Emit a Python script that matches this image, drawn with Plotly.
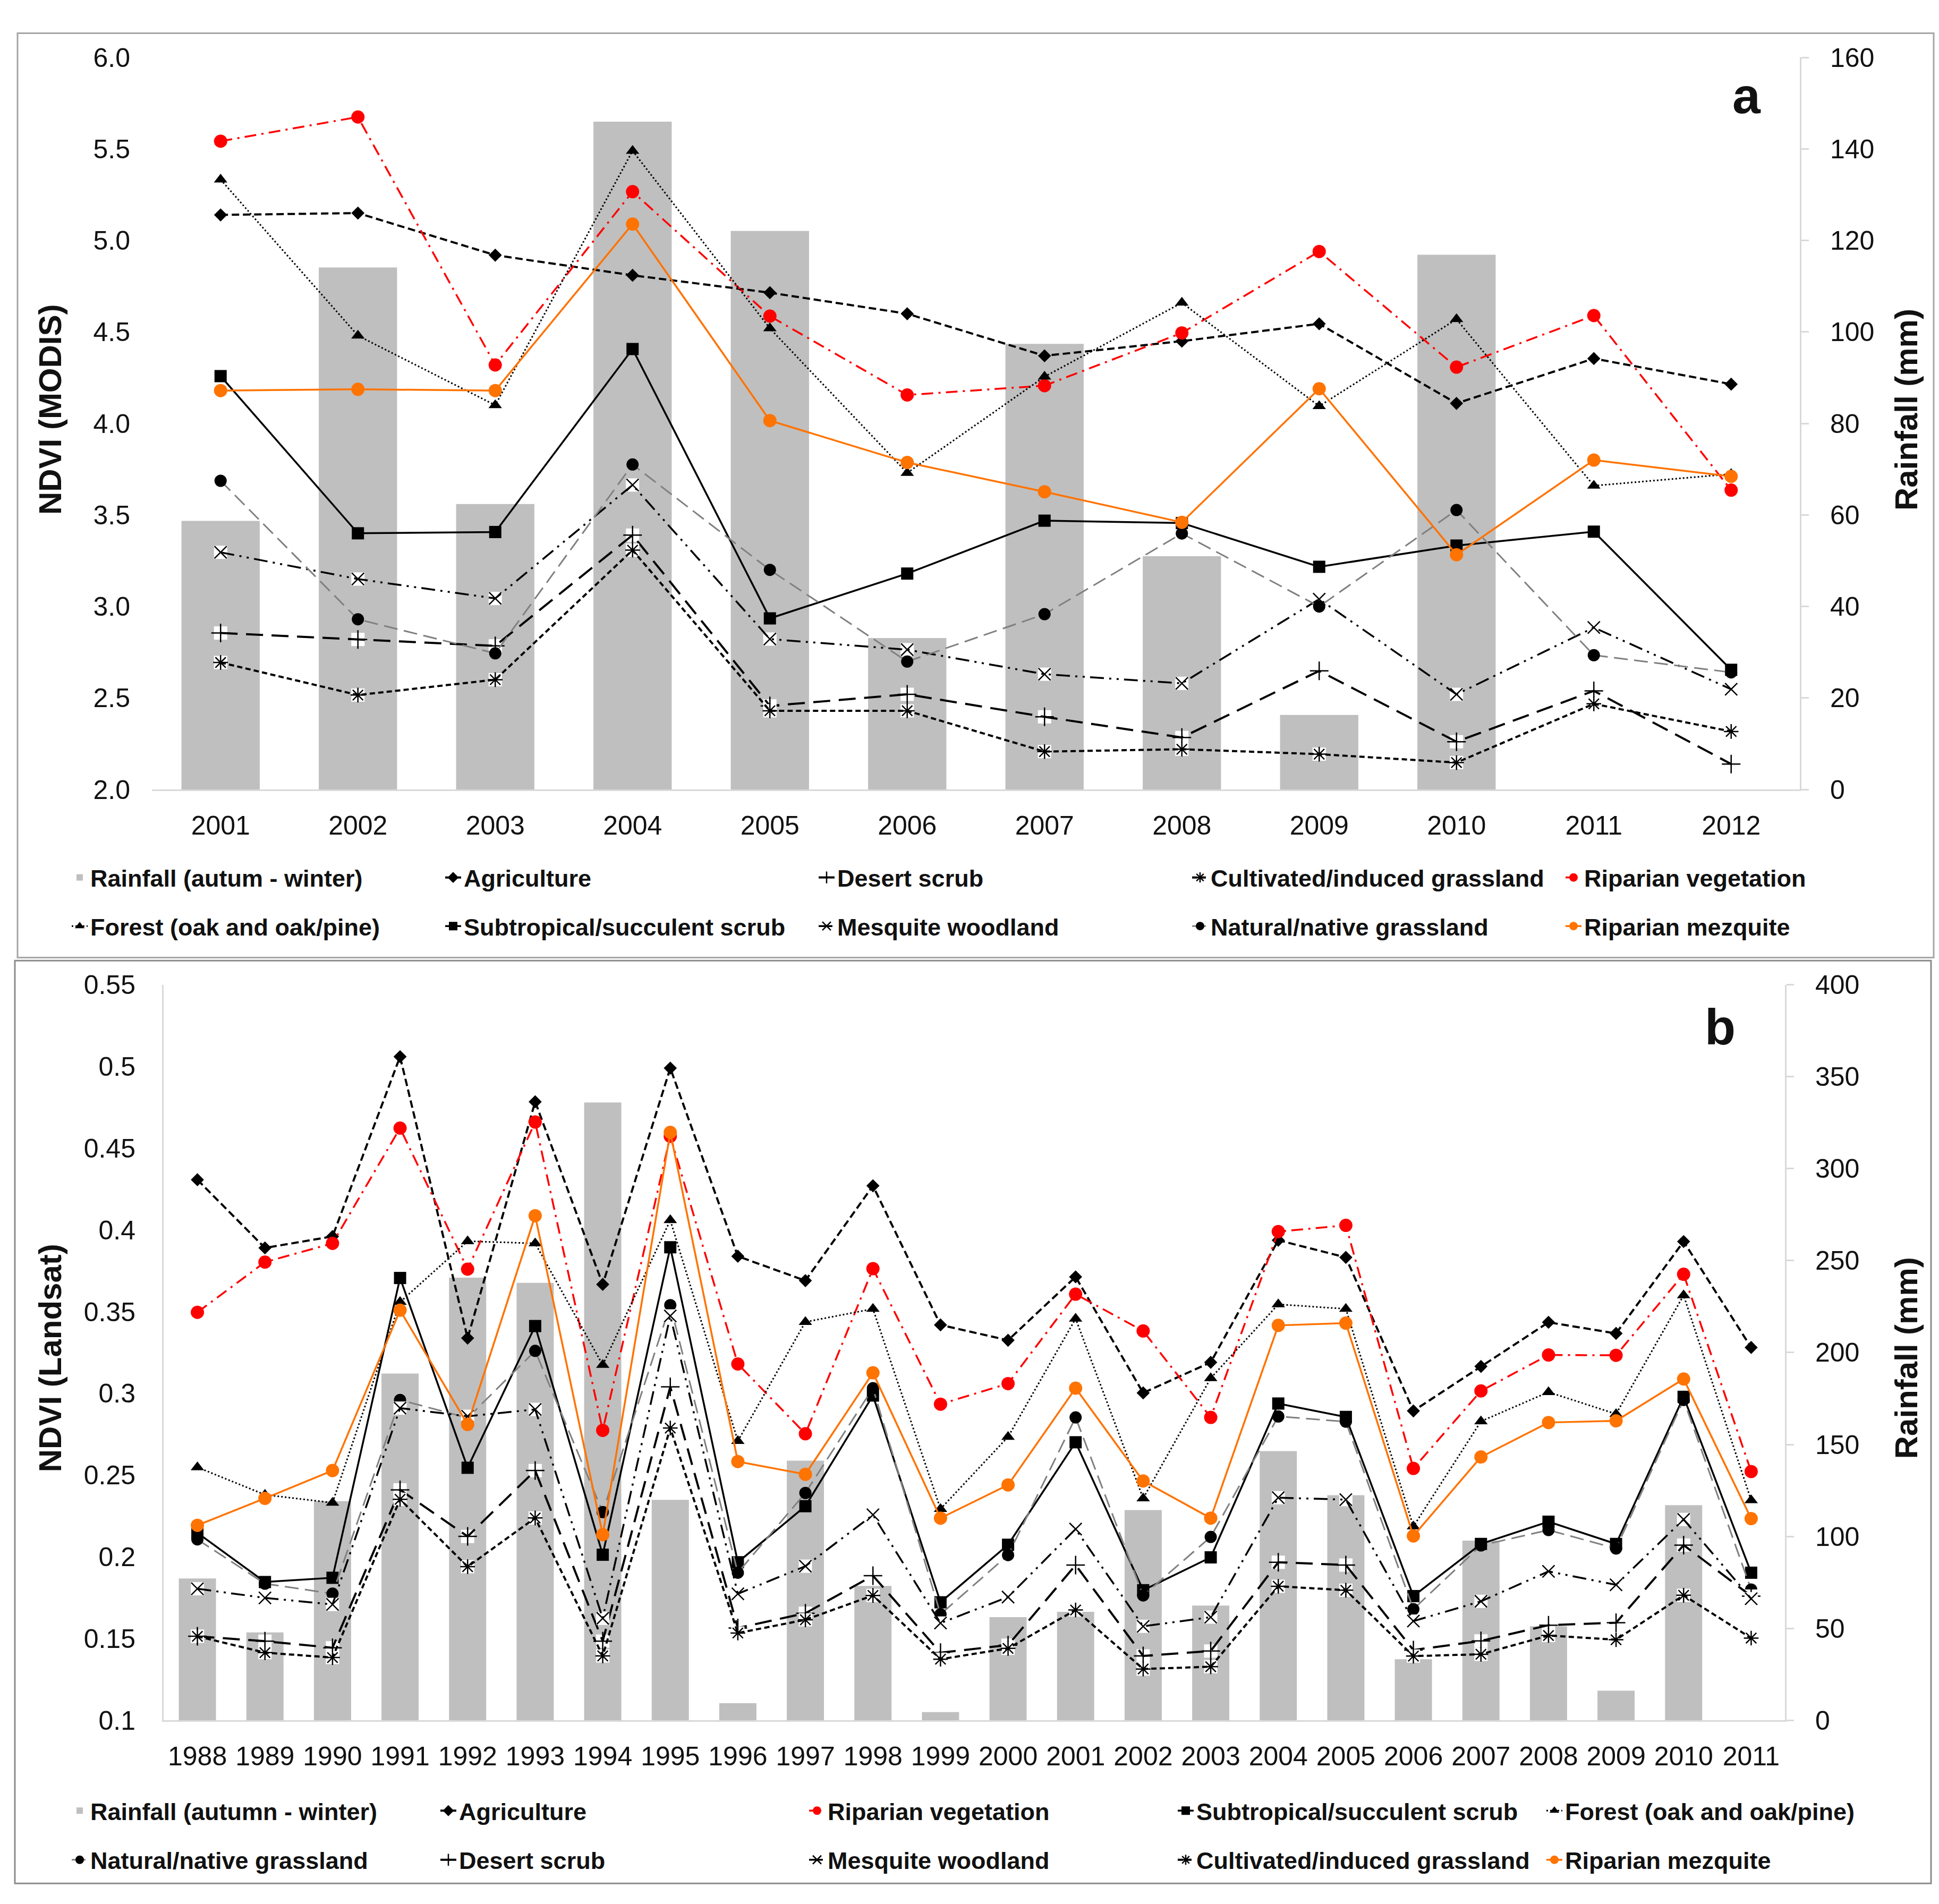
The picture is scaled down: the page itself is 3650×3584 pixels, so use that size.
import plotly.graph_objects as go

# ---------------- data: panel a (MODIS) ----------------
years_a = [2001, 2002, 2003, 2004, 2005, 2006, 2007, 2008, 2009, 2010, 2011, 2012]
year_labels_a = [str(y) for y in years_a]
rain_a = [58.7, 114.1, 62.4, 146.0, 122.1, 33.1, 97.4, 51.0, 16.3, 116.9, None, None]
agri_a = [5.14, 5.15, 4.92, 4.81, 4.715, 4.60, 4.37, 4.45, 4.545, 4.11, 4.355, 4.215]
desert_a = [2.855, 2.82, 2.785, 3.39, 2.457, 2.52, 2.397, 2.284, 2.648, 2.261, 2.539, 2.139]
cult_a = [2.694, 2.516, 2.60, 3.308, 2.43, 2.43, 2.207, 2.22, 2.193, 2.147, 2.468, 2.317]
ripveg_a = [5.543, 5.675, 4.32, 5.267, 4.587, 4.156, 4.207, 4.495, 4.94, 4.308, 4.59, 3.636]
forest_a = [5.333, 4.48, 4.10, 5.49, 4.52, 3.73, 4.256, 4.66, 4.095, 4.57, 3.66, 3.724]
subtrop_a = [4.259, 3.40, 3.407, 4.407, 2.935, 3.18, 3.469, 3.456, 3.217, 3.333, 3.409, 2.654]
mesq_a = [3.296, 3.15, 3.044, 3.664, 2.822, 2.764, 2.63, 2.58, 3.04, 2.52, 2.885, 2.548]
natural_a = [3.687, 2.93, 2.744, 3.776, 3.20, 2.699, 2.958, 3.399, 3.0, 3.527, 2.734, 2.64]
ripmez_a = [4.18, 4.187, 4.18, 5.09, 4.016, 3.787, 3.627, 3.46, 4.19, 3.283, 3.80, 3.711]
ndvi_ticks_a = [2.0, 2.5, 3.0, 3.5, 4.0, 4.5, 5.0, 5.5, 6.0]
ndvi_ticktext_a = ["2.0", "2.5", "3.0", "3.5", "4.0", "4.5", "5.0", "5.5", "6.0"]
rain_ticks_a = [0, 20, 40, 60, 80, 100, 120, 140, 160]

# ---------------- data: panel b (Landsat) ----------------
years_b = [1988, 1989, 1990, 1991, 1992, 1993, 1994, 1995, 1996, 1997, 1998, 1999,
           2000, 2001, 2002, 2003, 2004, 2005, 2006, 2007, 2008, 2009, 2010, 2011]
year_labels_b = [str(y) for y in years_b]
rain_b = [77.1, 47.8, 119.2, 188.6, 240.7, 237.9, 336.0, 119.9, 9.3, 141.2, 73.1, 4.5,
          56.1, 59.0, 114.3, 62.4, 146.4, 122.4, 33.2, 97.7, 51.1, 16.1, 117.0, None]
agri_b = [0.4307, 0.389, 0.396, 0.506, 0.3338, 0.4784, 0.3667, 0.499, 0.3839, 0.369, 0.427, 0.3419,
          0.3325, 0.3713, 0.3003, 0.319, 0.3937, 0.3832, 0.2893, 0.3165, 0.3435, 0.3367, 0.3929, 0.3281]
ripveg_b = [0.3496, 0.3803, 0.3918, 0.4623, 0.376, 0.466, 0.2774, 0.4573, 0.318, 0.2753, 0.3763, 0.2934,
            0.306, 0.3607, 0.3382, 0.2853, 0.399, 0.4028, 0.2541, 0.3015, 0.3235, 0.3233, 0.3729, 0.2522]
subtrop_b = [0.2147, 0.1846, 0.1872, 0.3706, 0.2545, 0.3412, 0.2013, 0.3894, 0.1967, 0.231, 0.2987, 0.1722,
             0.2074, 0.2701, 0.1796, 0.1997, 0.2938, 0.2856, 0.176, 0.2079, 0.2215, 0.2079, 0.2979, 0.1903]
forest_b = [0.2548, 0.238, 0.2331, 0.3559, 0.3931, 0.3918, 0.3174, 0.406, 0.2709, 0.3437, 0.3517, 0.2293,
            0.2734, 0.3457, 0.2358, 0.3093, 0.3545, 0.3517, 0.2186, 0.2829, 0.3008, 0.2874, 0.36, 0.2346]
natural_b = [0.2107, 0.1836, 0.1775, 0.296, 0.285, 0.326, 0.2274, 0.354, 0.1903, 0.2391, 0.3032, 0.1649,
             0.2011, 0.2853, 0.1764, 0.2122, 0.2859, 0.2827, 0.168, 0.207, 0.2164, 0.2051, 0.296, 0.18]
desert_b = [0.1514, 0.1484, 0.1444, 0.241, 0.2125, 0.2528, 0.1484, 0.304, 0.1565, 0.1655, 0.1885, 0.1414,
            0.146, 0.195, 0.1394, 0.1424, 0.1967, 0.195, 0.143, 0.1486, 0.1582, 0.1597, 0.2072, 0.176]
mesq_b = [0.1805, 0.1749, 0.1709, 0.291, 0.286, 0.2902, 0.1624, 0.3474, 0.1774, 0.1943, 0.2257, 0.1595,
          0.1754, 0.217, 0.1575, 0.1631, 0.2362, 0.235, 0.1607, 0.1728, 0.1911, 0.1829, 0.2229, 0.1744]
cult_b = [0.1514, 0.1414, 0.1384, 0.2352, 0.194, 0.2238, 0.1394, 0.2788, 0.1534, 0.1615, 0.1764, 0.1374,
          0.144, 0.1675, 0.1314, 0.1328, 0.182, 0.1796, 0.1393, 0.1404, 0.1519, 0.1493, 0.1765, 0.1503]
ripmez_b = [0.2193, 0.2358, 0.2528, 0.3509, 0.281, 0.4087, 0.2136, 0.4597, 0.2583, 0.2505, 0.3126, 0.2237,
            0.244, 0.3032, 0.2464, 0.2237, 0.3416, 0.343, 0.2128, 0.2611, 0.2822, 0.2832, 0.3088, 0.2234]
ndvi_ticks_b = [0.1, 0.15, 0.2, 0.25, 0.3, 0.35, 0.4, 0.45, 0.5, 0.55]
ndvi_ticktext_b = ["0.1", "0.15", "0.2", "0.25", "0.3", "0.35", "0.4", "0.45", "0.5", "0.55"]
rain_ticks_b = [0, 50, 100, 150, 200, 250, 300, 350, 400]

# ---------------- layout constants ----------------
W, H = 3650, 3584
FONT = "Liberation Sans, Arial, sans-serif"
TXT = "#111111"
AXIS_GREY = "#D9D9D9"
BAR_GREY = "#BFBFBF"
RED = "#FF0000"
ORANGE = "#FF7300"


def fx(px):
    return px / W


def fy(px):
    return 1 - px / H


STYLES = {
    "agri": dict(line=dict(color="black", width=4, dash="14px,7px"),
                 marker=dict(symbol="diamond", size=19, color="black")),
    "desert": dict(line=dict(color="black", width=4, dash="32px,16px"),
                   marker=dict(symbol="cross-thin-open", size=25, color="black",
                               line=dict(width=2.5, color="black"))),
    "cult": dict(line=dict(color="black", width=4, dash="10px,6px"),
                 marker=dict(symbol="asterisk-open", size=23, color="black",
                             line=dict(width=2.5, color="black"))),
    "ripveg": dict(line=dict(color=RED, width=3.5, dash="22px,10px,4px,10px"),
                   marker=dict(symbol="circle", size=25, color=RED)),
    "forest": dict(line=dict(color="black", width=3, dash="3px,4px"),
                   marker=dict(symbol="triangle-up", size=22, color="black")),
    "subtrop": dict(line=dict(color="black", width=3.5),
                    marker=dict(symbol="square", size=23, color="black")),
    "mesq": dict(line=dict(color="black", width=3.5, dash="26px,10px,4px,10px,4px,10px"),
                 marker=dict(symbol="x-thin-open", size=23, color="black",
                             line=dict(width=2.5, color="black"))),
    "natural": dict(line=dict(color="#808080", width=3, dash="26px,12px"),
                    marker=dict(symbol="circle", size=23, color="black")),
    "ripmez": dict(line=dict(color=ORANGE, width=3.5),
                   marker=dict(symbol="circle", size=25, color=ORANGE)),
}
WHITE_BOX = {"desert", "cult", "mesq"}

fig = go.Figure()


def add_series(key, name, xs, ys, xaxis, yaxis, legend):
    if key in WHITE_BOX:
        fig.add_trace(go.Scatter(
            x=xs, y=ys, mode="markers", xaxis=xaxis, yaxis=yaxis,
            marker=dict(symbol="square", size=25, color="white"),
            showlegend=False, hoverinfo="skip"))
    st = STYLES[key]
    fig.add_trace(go.Scatter(
        x=xs, y=ys, name=name, mode="lines+markers", xaxis=xaxis, yaxis=yaxis,
        line=st["line"], marker=st["marker"], legend=legend))


# ---------- panel a ----------
fig.add_trace(go.Bar(x=years_a, y=rain_a, name="Rainfall (autum - winter)",
                     marker=dict(color=BAR_GREY, line=dict(width=0)), width=0.57,
                     xaxis="x", yaxis="y", legend="legend"))
rows_a = [
    [("agri", "Agriculture", agri_a), ("desert", "Desert scrub", desert_a),
     ("cult", "Cultivated/induced grassland", cult_a), ("ripveg", "Riparian vegetation", ripveg_a)],
    [("forest", "Forest (oak and oak/pine)", forest_a), ("subtrop", "Subtropical/succulent scrub", subtrop_a),
     ("mesq", "Mesquite woodland", mesq_a), ("natural", "Natural/native grassland", natural_a),
     ("ripmez", "Riparian mezquite", ripmez_a)],
]
for i, row in enumerate(rows_a):
    for key, name, vals in row:
        add_series(key, name, years_a, vals, "x", "y2", "legend" if i == 0 else "legend2")

# ---------- panel b ----------
fig.add_trace(go.Bar(x=years_b, y=rain_b, name="Rainfall (autumn - winter)",
                     marker=dict(color=BAR_GREY, line=dict(width=0)), width=0.55,
                     xaxis="x2", yaxis="y3", legend="legend3"))
rows_b = [
    [("agri", "Agriculture", agri_b), ("ripveg", "Riparian vegetation", ripveg_b),
     ("subtrop", "Subtropical/succulent scrub", subtrop_b), ("forest", "Forest (oak and oak/pine)", forest_b)],
    [("natural", "Natural/native grassland", natural_b), ("desert", "Desert scrub", desert_b),
     ("mesq", "Mesquite woodland", mesq_b), ("cult", "Cultivated/induced grassland", cult_b),
     ("ripmez", "Riparian mezquite", ripmez_b)],
]
for i, row in enumerate(rows_b):
    for key, name, vals in row:
        add_series(key, name, years_b, vals, "x2", "y4", "legend3" if i == 0 else "legend4")

tickfont = dict(family=FONT, size=50, color=TXT)
legfont = dict(family=FONT, size=45, color=TXT, weight="bold")
titlefont = dict(family=FONT, size=60, color=TXT, weight="bold")


def xax(domain, anchor, rng, vals, text):
    return dict(domain=domain, anchor=anchor, range=rng, tickmode="array", tickvals=vals,
                ticktext=text, showline=True, linecolor=AXIS_GREY, linewidth=3, ticks="",
                showgrid=False, zeroline=False, tickfont=tickfont, ticklabelstandoff=22,
                fixedrange=True)


def rain_ax(domain, anchor, rng, vals):
    return dict(domain=domain, anchor=anchor, side="right", range=rng, tickmode="array",
                tickvals=vals, showline=True, linecolor=AXIS_GREY, linewidth=3,
                ticks="outside", ticklen=14, tickwidth=3, tickcolor=AXIS_GREY,
                showgrid=False, zeroline=False, tickfont=tickfont, ticklabelstandoff=30)


def ndvi_ax(overlay, anchor, rng, vals, text, line):
    return dict(overlaying=overlay, anchor=anchor, side="left", range=rng, tickmode="array",
                tickvals=vals, ticktext=text, showline=line, linecolor=AXIS_GREY, linewidth=3,
                ticks="", showgrid=False, zeroline=False, tickfont=tickfont,
                ticklabelstandoff=40)


def legend(x, y, entry):
    return dict(x=x, y=y, xanchor="left", yanchor="middle", orientation="h",
                entrywidth=entry, entrywidthmode="pixels", font=legfont,
                bgcolor="rgba(0,0,0,0)", borderwidth=0, traceorder="normal",
                itemclick=False, itemdoubleclick=False)


def title(text, x, y):
    return dict(text=text, x=fx(x), y=fy(y), xref="paper", yref="paper", xanchor="center",
                yanchor="middle", textangle=-90, showarrow=False, font=titlefont)


fig.update_layout(
    width=W, height=H, margin=dict(l=0, r=0, t=0, b=0),
    paper_bgcolor="white", plot_bgcolor="rgba(0,0,0,0)",
    barmode="overlay", hovermode=False,
    xaxis=xax([fx(278), fx(3380)], "y", [2000.5, 2012.5], years_a, year_labels_a),
    yaxis=rain_ax([fy(1473.5), fy(73.5)], "x", [0, 160], rain_ticks_a),
    yaxis2=ndvi_ax("y", "x", [2, 6], ndvi_ticks_a, ndvi_ticktext_a, False),
    xaxis2=xax([fx(300), fx(3352)], "y3", [1987.5, 2011.5], years_b, year_labels_b),
    yaxis3=rain_ax([fy(3254), fy(1847)], "x2", [0, 400], rain_ticks_b),
    yaxis4=ndvi_ax("y3", "x2", [0.1, 0.55], ndvi_ticks_b, ndvi_ticktext_b, True),
    legend=legend(fx(122), fy(1642), 658),
    legend2=legend(fx(122), fy(1735), 658),
    legend3=legend(fx(122), fy(3427), 649),
    legend4=legend(fx(122), fy(3521), 649),
    shapes=[
        dict(type="rect", xref="paper", yref="paper", x0=fx(25), x1=fx(3632), y0=fy(1795), y1=fy(27),
             line=dict(color="#A6A6A6", width=3), fillcolor="rgba(0,0,0,0)", layer="below"),
        dict(type="rect", xref="paper", yref="paper", x0=fx(20), x1=fx(3627), y0=fy(3566), y1=fy(1801),
             line=dict(color="#8C8C8C", width=3), fillcolor="rgba(0,0,0,0)", layer="below"),
    ],
    annotations=[
        title("NDVI (MODIS)", 86, 747),
        title("Rainfall (mm)", 3580, 747),
        title("NDVI (Landsat)", 86, 2561),
        title("Rainfall (mm)", 3580, 2561),
        dict(text="a", x=fx(3280), y=fy(146), xref="paper", yref="paper", showarrow=False,
             xanchor="center", yanchor="middle",
             font=dict(family=FONT, size=95, color=TXT, weight="bold")),
        dict(text="b", x=fx(3230), y=fy(1928), xref="paper", yref="paper", showarrow=False,
             xanchor="center", yanchor="middle",
             font=dict(family=FONT, size=95, color=TXT, weight="bold")),
    ],
)

fig.write_html("out.html")
